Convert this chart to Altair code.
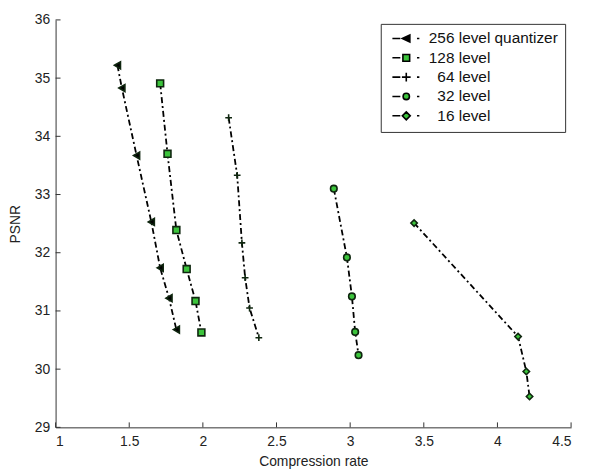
import altair as alt
import pandas as pd

# ---- data ----
# (a zero-width space keeps the leading spaces from being trimmed)
series = ["256 level quantizer", "128 level", "\u200b\u00a0\u00a064 level",
          "\u200b\u00a0\u00a032 level", "\u200b\u00a0\u00a016 level"]

q256_x = [1.42, 1.45, 1.55, 1.65, 1.71, 1.77, 1.82]
q256_y = [35.22, 34.83, 33.67, 32.53, 31.74, 31.22, 30.68]
q128_x = [1.71, 1.76, 1.82, 1.89, 1.95, 1.99]
q128_y = [34.91, 33.70, 32.39, 31.72, 31.17, 30.63]
q64_x = [2.175, 2.233, 2.265, 2.287, 2.317, 2.38]
q64_y = [34.32, 33.33, 32.17, 31.57, 31.05, 30.54]
q32_x = [2.889, 2.978, 3.012, 3.034, 3.057]
q32_y = [33.10, 31.92, 31.25, 30.64, 30.24]
q16_x = [3.434, 4.14, 4.196, 4.218]
q16_y = [32.51, 30.56, 29.96, 29.53]

x_ticks = [1, 1.5, 2, 2.5, 3, 3.5, 4, 4.5]
y_ticks = [29, 30, 31, 32, 33, 34, 35, 36]

xs = [q256_x, q128_x, q64_x, q32_x, q16_x]
ys = [q256_y, q128_y, q64_y, q32_y, q16_y]

rows = []
for name, sx, sy in zip(series, xs, ys):
    for i, (a, b) in enumerate(zip(sx, sy)):
        rows.append({"series": name, "idx": i, "rate": a, "psnr": b})
df = pd.DataFrame(rows)

W, H = 520, 411
FONT = "Liberation Sans"
GREEN = "#3cc43c"
EDGE = "#0f260f"

marker_shapes = [
    "triangle-left",
    "square",
    "M-1,0L1,0M0,-1L0,1",
    "circle",
    "diamond",
]
marker_sizes = [50, 42, 81, 36, 49]
marker_fills = ["#000000", GREEN, "#000000", GREEN, GREEN]
legend_strokes = ["#000000", "#000000", "#000000", "#000000", "#000000"]

dash = "M-3.5,0L-1.5,0M2.7,0L3.3,0"
legend_paths = [
    dash + "M-1,0L0.9,-0.9L0.9,0.9Z",
    dash + "M-0.85,-0.85L0.85,-0.85L0.85,0.85L-0.85,0.85Z",
    dash + "M-1.1,0L1.1,0M0,-1.1L0,1.1",
    dash + "M-0.8,0A0.8,0.8,0,1,0,0.8,0A0.8,0.8,0,1,0,-0.8,0Z",
    dash + "M-1,0L0,-1L1,0L0,1Z",
]

xscale = alt.Scale(domain=[1, 4.5], nice=False, zero=False)
yscale = alt.Scale(domain=[29, 36], nice=False, zero=False)

xenc = alt.X("rate:Q", scale=xscale,
             axis=alt.Axis(values=x_ticks, format="~g", title="Compression rate",
                           titleY=27, titleBaseline="top", labelPadding=7))
yenc = alt.Y("psnr:Q", scale=yscale,
             axis=alt.Axis(values=y_ticks, format="~g", title="PSNR",
                           titleX=-33, titleY=H / 2, labelPadding=6))

lines = alt.Chart(df).mark_line(color="black", strokeDash=[6, 3, 2, 3],
                                strokeWidth=1.8).encode(
    x=xenc, y=yenc, detail="series:N", order="idx:Q")

points = alt.Chart(df).mark_point(filled=True, stroke=EDGE, strokeWidth=1.6,
                                  opacity=1).encode(
    x="rate:Q", y="psnr:Q",
    shape=alt.Shape("series:N", scale=alt.Scale(domain=series, range=marker_shapes), legend=None),
    fill=alt.Fill("series:N", scale=alt.Scale(domain=series, range=marker_fills), legend=None),
    size=alt.Size("series:N", scale=alt.Scale(domain=series, range=marker_sizes), legend=None),
)

leg = alt.Legend(title=None, orient="none", legendX=328, legendY=4,
                 padding=7, strokeColor="#333333", fillColor="white",
                 symbolSize=64, symbolOffset=11, labelOffset=15,
                 labelFontSize=15.5, labelFont=FONT, labelColor="#111111",
                 rowPadding=2.5, symbolOpacity=1, symbolStrokeWidth=1.6,
                 labelLimit=300)

legend_layer = alt.Chart(df).mark_point(filled=True, strokeWidth=1.5, opacity=0).encode(
    x="rate:Q", y="psnr:Q",
    shape=alt.Shape("series:N", scale=alt.Scale(domain=series, range=legend_paths), legend=leg),
    fill=alt.Fill("series:N", scale=alt.Scale(domain=series, range=marker_fills), legend=leg),
    stroke=alt.Stroke("series:N", scale=alt.Scale(domain=series, range=legend_strokes), legend=leg),
)

xt = pd.DataFrame({"t": x_ticks})
yt = pd.DataFrame({"t": y_ticks})
xtick_marks = alt.Chart(xt).mark_rule(color="#333333", strokeWidth=1).encode(
    x=alt.X("t:Q", scale=xscale), y=alt.value(H), y2=alt.value(H - 5))
ytick_marks = alt.Chart(yt).mark_rule(color="#333333", strokeWidth=1).encode(
    y=alt.Y("t:Q", scale=yscale), x=alt.value(0), x2=alt.value(5))

chart = alt.layer(lines, points, legend_layer, xtick_marks, ytick_marks).resolve_scale(
    shape="independent", fill="independent", size="independent", stroke="independent"
).properties(
    width=W, height=H,
    autosize=alt.AutoSizeParams(type="none"),
    padding={"left": 48, "top": 10, "right": 10, "bottom": 40},
    background="white",
).configure_view(stroke=None).configure_axis(
    grid=False, ticks=False, tickSize=0, domainColor="#333333", domainWidth=1,
    labelFont=FONT, labelFontSize=14, labelColor="#222222",
    titleFont=FONT, titleFontSize=14, titleFontWeight="normal", titleColor="#222222",
)

chart.save("out.html", embed_options={"renderer": "svg", "actions": False})
